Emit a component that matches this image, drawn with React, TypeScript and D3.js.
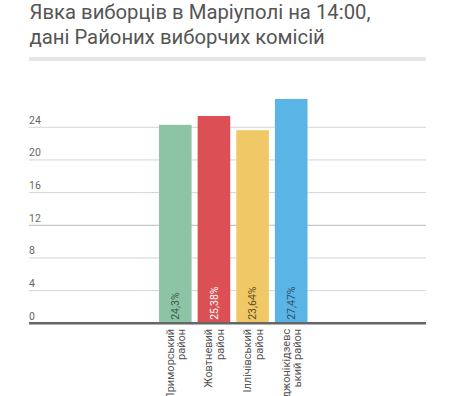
import React from "react";
import * as d3 from "d3";

const categories = ["Приморський район", "Жовтневий район", "Іллічівський район", "Орджонікідзевський район"];
const labelLines = [["Приморський", "район"], ["Жовтневий", "район"], ["Іллічівський", "район"], ["Орджонікідзевс", "ький район"]];
const values = [24.3, 25.38, 23.64, 27.47];
const valueLabels = ["24,3%", "25,38%", "23,64%", "27,47%"];
const colors = ["#8dc4a6", "#dc5055", "#f0c966", "#5ab4e5"];
const labelColors = ["#3f5a4b", "#ffffff", "#5b4c22", "#2e4f6e"];
const yTicks = [0, 4, 8, 12, 16, 20, 24];
const titleLines = ["Явка виборців в Маріуполі на 14:00,", "дані Районих виборчих комісій"];

export default function App() {
  const W = 460, H = 396;
  const left = 29, right = 426;
  const x = d3.scaleBand<string>().domain(categories).range([159, 307.5]).paddingInner(0.156).paddingOuter(0);
  const y = d3.scaleLinear().domain([0, 28]).range([323.3, 94.6]);
  const font = "Roboto, 'Noto Sans', sans-serif";
  return (
    <svg width={W} height={H} style={{ position: "absolute", left: 0, top: 0, background: "#fff" }} fontFamily={font}>
      {titleLines.map((t, i) => (
        <text key={i} x={29.5} y={18.5 + i * 25.8} fontSize={20.3} fill="#555" fontWeight={400}>{t}</text>
      ))}
      <rect x={left} y={57} width={right - left} height={4} fill="#e6e6e6" />
      {yTicks.map((t) => (
        <g key={t}>
          {t !== 0 && <line x1={left} x2={right} y1={y(t)} y2={y(t)} stroke={t === 12 ? "#b8b8b8" : "#d4d4d4"} strokeWidth={1} />}
          <text x={left} y={y(t) - 3.5} fontSize={10.5} fill="#666">{t}</text>
        </g>
      ))}
      {categories.map((c, i) => (
        <rect key={c} x={x(c)} y={y(values[i])} width={x.bandwidth()} height={y(0) - y(values[i])} fill={colors[i]} />
      ))}
      <line x1={left} x2={right} y1={y(0)} y2={y(0)} stroke="#666" strokeWidth={2.5} />
      {categories.map((c, i) => {
        const cx = (x(c) as number) + x.bandwidth() / 2;
        return (
          <text key={c} transform={`translate(${cx},${y(0) - 3.5}) rotate(-90)`} dy="0.35em" fontSize={10.5} fill={labelColors[i]}>
            {valueLabels[i]}
          </text>
        );
      })}
      {categories.map((c, i) => {
        const cx = (x(c) as number) + x.bandwidth() / 2;
        return (
          <text key={c} transform={`translate(${cx},${y(0) + 5.5}) rotate(-90)`} textAnchor="end" fontSize={11} fill="#555">
            <tspan x={0} y={-1.5}>{labelLines[i][0]}</tspan>
            <tspan x={0} y={10}>{labelLines[i][1]}</tspan>
          </text>
        );
      })}
    </svg>
  );
}
